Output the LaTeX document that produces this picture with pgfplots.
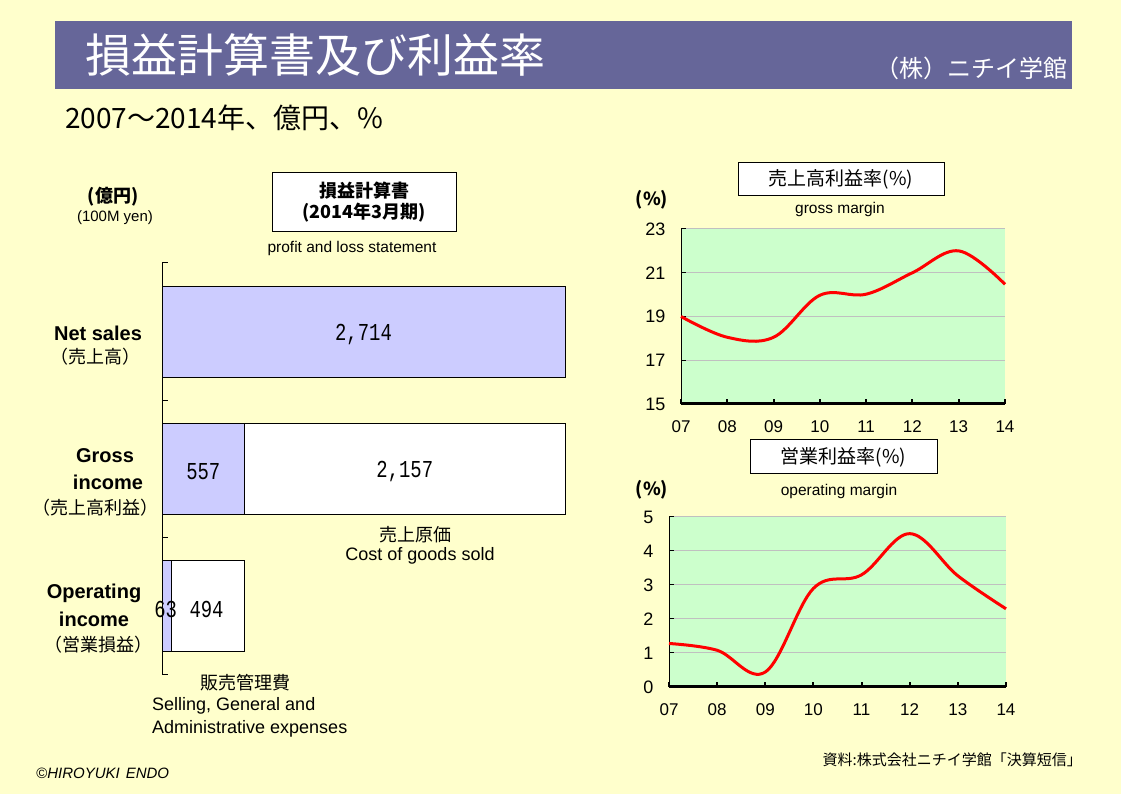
\documentclass[border=0pt]{standalone}
\usepackage{fontspec}
\setmainfont{Liberation Sans}
\newfontfamily\jp{Noto Sans CJK JP}
\newfontfamily\mono{Liberation Mono}
\usepackage{graphicx}
\usepackage{pgfplots}
\pgfplotsset{compat=1.18}
\definecolor{cream}{HTML}{FFFFCC}
\definecolor{titlebar}{HTML}{666699}
\definecolor{barblue}{HTML}{CCCCFF}
\definecolor{lgreen}{HTML}{CCFFCC}
\definecolor{gridgray}{HTML}{C0C0C0}
\newcommand\fs[1]{\fontsize{#1}{#1}\selectfont}
\newcommand\barnum[1]{\scalebox{1.05}[1.35]{\mono\fs{18}#1}}
\pgfplotsset{
  margin/.style={
    anchor=south west, scale only axis,
    xmin=2007, xmax=2014,
    xtick={2007,...,2014}, xticklabels={07,08,09,10,11,12,13,14},
    axis x line*=bottom, axis y line*=left,
    x axis line style={black, line width=3pt},
    y axis line style={black, line width=1pt},
    ymajorgrids, grid style={gridgray, line width=1pt},
    axis background/.style={fill=lgreen},
    tick align=inside, major tick length=5pt,
    xtick style={black, line width=2pt},
    ytick style={black, line width=1pt},
    xticklabel style={font=\fs{17}, yshift=-13pt},
    yticklabel style={font=\fs{18}, xshift=-12pt},
    /pgf/number format/assume math mode=true,
    clip=false,
  }
}
\begin{document}
\begin{tikzpicture}
\useasboundingbox (0,0) rectangle (1121pt,794pt);
\fill[cream] (0,0) rectangle (1121pt,794pt);
% title bar
\fill[titlebar] (55pt,705pt) rectangle (1072pt,773pt);
\node[anchor=west, text=white, inner sep=0] at (85pt,739pt) {\jp\fs{46}損益計算書及び利益率};
\node[anchor=east, text=white, inner sep=0] at (1068pt,726pt) {\jp\fs{24}（株）ニチイ学館};
\node[anchor=west, inner sep=0] at (65pt,676pt) {\jp\fs{28}2007～2014年、億円、\%};

% left chart texts
\node[inner sep=0] at (113pt,597pt) {\jp\bfseries\fs{18}(億円)};
\node[inner sep=0] at (115pt,576pt) {\fs{15}(100M yen)};
\draw[fill=white, line width=1pt] (272pt,562pt) rectangle (456pt,621pt);
\node[inner sep=0] at (364pt,603pt) {\jp\bfseries\fs{18}損益計算書};
\node[inner sep=0] at (364pt,581pt) {\jp\bfseries\fs{18}(2014年3月期)};
\node[inner sep=0] at (352pt,545pt) {\fs{15.5}profit and loss statement};
\node[inner sep=0] at (98pt,461pt) {\bfseries\fs{20}Net sales};
\node[inner sep=0] at (95pt,437pt) {\jp\fs{18}（売上高）};
\node[inner sep=0] at (105pt,338pt) {\bfseries\fs{20}Gross};
\node[inner sep=0] at (108pt,312pt) {\bfseries\fs{20}income};
\node[inner sep=0] at (95pt,286pt) {\jp\fs{18}（売上高利益）};
\node[inner sep=0] at (94pt,201pt) {\bfseries\fs{20}Operating};
\node[inner sep=0] at (94pt,175pt) {\bfseries\fs{20}income};
\node[inner sep=0] at (98pt,149pt) {\jp\fs{18}（営業損益）};
\node[inner sep=0] at (415pt,259pt) {\jp\fs{18}売上原価};
\node[inner sep=0] at (420pt,238pt) {\fs{18}Cost of goods sold};
\node[inner sep=0] at (245pt,111pt) {\jp\fs{18}販売管理費};
\node[anchor=west, inner sep=0] at (152pt,88pt) {\fs{18}Selling, General and};
\node[anchor=west, inner sep=0] at (152pt,65pt) {\fs{18}Administrative expenses};

\begin{axis}[at={(162pt,119pt)}, anchor=south west, scale only axis,
  width=403pt, height=412pt,
  xbar stacked, bar width=91pt,
  xmin=0, xmax=2714, ymin=-0.5, ymax=2.5,
  axis x line=none, axis y line*=left,
  ytick={-0.5,0.5,1.5,2.5}, yticklabels={,,,},
  tick align=inside, major tick length=6pt,
  y axis line style={black, line width=1pt},
  ytick style={black, line width=1pt},
  clip=false]
\addplot[fill=barblue, draw=black, line width=1pt] coordinates {(2714,2) (557,1) (63,0)};
\addplot[fill=white, draw=black, line width=1pt] coordinates {(0,2) (2157,1) (494,0)};
\coordinate (v1) at (axis cs:1357,2);
\coordinate (v2) at (axis cs:278,1);
\coordinate (v3) at (axis cs:1635,1);
\coordinate (v4) at (axis cs:25,0);
\coordinate (v5) at (axis cs:300,0);
\end{axis}
\node[yshift=-3pt] at (v1) {\barnum{2,714}};
\node[yshift=-3pt] at (v2) {\barnum{557}};
\node[yshift=-3pt] at (v3) {\barnum{2,157}};
\node[yshift=-3pt] at (v4) {\barnum{63}};
\node[yshift=-3pt] at (v5) {\barnum{494}};

% right top
\draw[fill=white, line width=1pt] (738pt,598pt) rectangle (944pt,631pt);
\node[inner sep=0] at (841pt,614.5pt) {\jp\fs{19}売上高利益率(\%)};
\node[inner sep=0] at (652pt,594pt) {\jp\bfseries\fs{18}(\%)};
\node[inner sep=0] at (840pt,584pt) {\fs{15.5}gross margin};
\begin{axis}[margin, at={(681pt,390pt)}, width=324pt, height=175pt,
  ymin=15, ymax=23, ytick={15,17,...,23}]
\addplot[red, line width=3pt, smooth, tension=0.6] coordinates {
 (2007,19.0) (2008,18.05) (2009,18.05) (2010,19.97) (2011,20.02) (2012,21.0) (2013,22.0) (2014,20.47)};
\end{axis}

% right bottom
\draw[fill=white, line width=1pt] (750pt,320pt) rectangle (937pt,354pt);
\node[inner sep=0] at (843.5pt,337pt) {\jp\fs{19}営業利益率(\%)};
\node[inner sep=0] at (652pt,304pt) {\jp\bfseries\fs{18}(\%)};
\node[inner sep=0] at (839pt,303pt) {\fs{15.5}operating margin};
\begin{axis}[margin, at={(669pt,107pt)}, width=337pt, height=170pt,
  ymin=0, ymax=5, ytick={0,...,5}]
\addplot[red, line width=3pt, smooth, tension=0.6] coordinates {
 (2007,1.28) (2008,1.08) (2009,0.44) (2010,2.90) (2011,3.30) (2012,4.51) (2013,3.27) (2014,2.30)};
\end{axis}

% footers
\node[anchor=west, inner sep=0] at (36pt,21pt) {\itshape\fs{15}©HIROYUKI\hspace{6pt}ENDO};
\node[anchor=east, inner sep=0] at (1082pt,34pt) {\jp\fs{15}資料:株式会社ニチイ学館「決算短信」};
\end{tikzpicture}
\end{document}
